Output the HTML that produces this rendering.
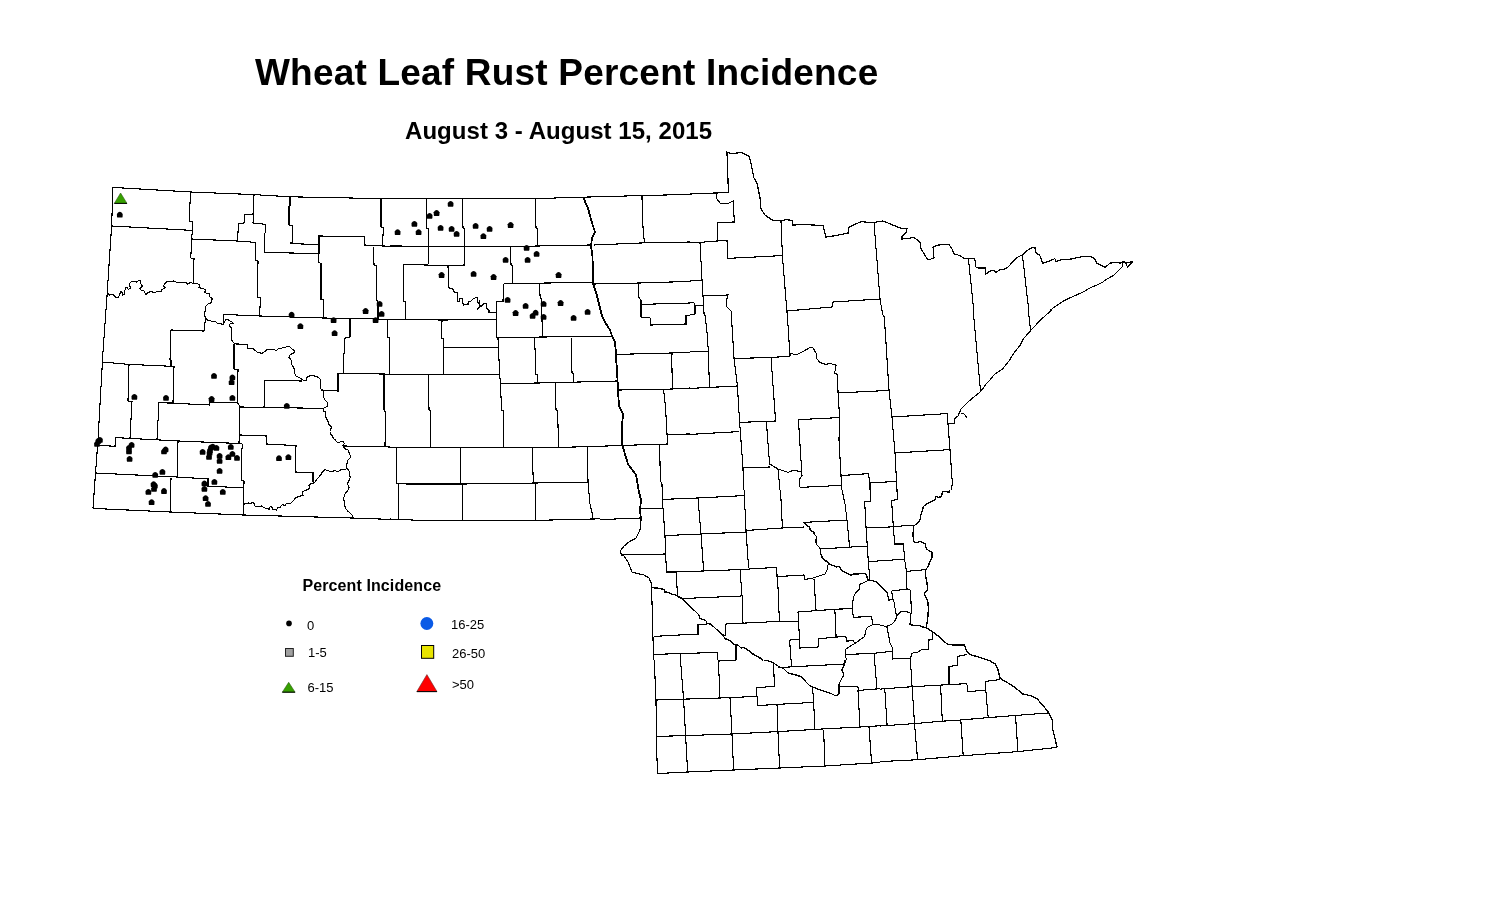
<!DOCTYPE html>
<html><head><meta charset="utf-8">
<style>
html,body{margin:0;padding:0;background:#fff;width:1503px;height:900px;overflow:hidden}
.t{position:absolute;font-family:"Liberation Sans",Arial,sans-serif;font-weight:bold;color:#000;white-space:nowrap;line-height:1}
.l{position:absolute;font-family:"Liberation Sans",Arial,sans-serif;color:#000;white-space:nowrap;font-size:13px;line-height:1}
svg{position:absolute;left:0;top:0}
</style></head><body>
<div class="t" style="left:255px;top:54px;font-size:37px;letter-spacing:0.2px">Wheat Leaf Rust Percent Incidence</div>
<div class="t" style="left:405px;top:118.7px;font-size:24px;letter-spacing:0.05px">August 3 - August 15, 2015</div>
<div class="t" style="left:302.5px;top:577.5px;font-size:16px;letter-spacing:0.1px">Percent Incidence</div>
<div class="l" style="left:307px;top:619px">0</div>
<div class="l" style="left:308px;top:645.5px">1-5</div>
<div class="l" style="left:307.5px;top:681px">6-15</div>
<div class="l" style="left:451px;top:618px">16-25</div>
<div class="l" style="left:452px;top:647px">26-50</div>
<div class="l" style="left:452px;top:677.5px">&gt;50</div>
<svg width="1503" height="900" viewBox="0 0 1503 900">
<g fill="none" stroke="#000" stroke-width="1.1" shape-rendering="crispEdges">
<defs><clipPath id="c0"><rect x="80" y="140" width="310" height="220"/></clipPath><clipPath id="c1"><rect x="80" y="360" width="310" height="185"/></clipPath><clipPath id="c2"><rect x="390" y="140" width="300" height="215"/></clipPath><clipPath id="c3"><rect x="690" y="140" width="270" height="175"/></clipPath><clipPath id="c4"><rect x="960" y="140" width="180" height="170"/></clipPath><clipPath id="c5"><rect x="960" y="310" width="180" height="90"/></clipPath><clipPath id="c6"><rect x="390" y="355" width="210" height="190"/><rect x="600" y="355" width="90" height="125"/></clipPath><clipPath id="c7"><rect x="690" y="315" width="270" height="175"/><rect x="960" y="400" width="30" height="90"/></clipPath><clipPath id="c8"><rect x="600" y="480" width="90" height="180"/><rect x="690" y="490" width="140" height="170"/><rect x="830" y="490" width="30" height="60"/></clipPath><clipPath id="c9"><rect x="860" y="490" width="200" height="60"/></clipPath><clipPath id="c10"><rect x="630" y="660" width="250" height="170"/></clipPath><clipPath id="c11"><rect x="880" y="660" width="190" height="140"/><rect x="940" y="550" width="130" height="110"/></clipPath><clipPath id="c12"><rect x="830" y="550" width="110" height="110"/></clipPath></defs>
<g clip-path="url(#c0)"><path d="M113.0 187.4 L190.4 192.0 L254.0 194.6 L290.0 196.8 L381.0 198.6 L390.0 198.8"/>
<path d="M113.0 187.4 L111.6 226.0 L107.0 296.0 L102.4 360.0"/>
<path d="M111.6 226.0 L192.4 230.4"/>
<path d="M190.4 192.0 L189.4 221.0 L192.4 221.6 L192.4 230.4 L191.6 239.0 L190.8 258.0 L194.0 258.6 L193.4 283.0"/>
<path d="M191.6 239.0 L237.6 241.0 L255.6 242.4"/>
<path d="M254.0 194.6 L253.6 214.0 L253.0 223.0 L265.8 224.4 L265.8 232.8 L264.4 233.2 L264.4 252.4 L318.6 253.6"/>
<path d="M253.6 214.0 L245.0 214.4 L244.0 223.0 L238.4 223.6 L237.6 241.0"/>
<path d="M290.0 196.8 L290.0 205.6 L289.0 206.2 L289.0 225.0 L292.4 225.6 L292.4 242.0 L291.0 242.4 L291.0 243.6 L319.0 244.6"/>
<path d="M319.0 253.6 L319.0 236.0 L364.0 236.6 L364.6 245.0 L383.0 246.0 L390.0 246.2"/>
<path d="M318.6 253.6 L318.6 262.0 L321.0 263.6 L321.0 299.4 L323.6 300.0 L323.6 318.0"/>
<path d="M381.0 198.6 L381.0 227.0 L383.4 228.0 L382.4 246.0"/>
<path d="M373.6 246.6 L374.0 265.0 L376.4 266.0 L376.4 300.0 L378.0 302.0 L378.0 318.0"/>
<path d="M255.6 242.4 L255.2 260.0 L258.0 261.0 L257.6 297.0 L260.4 298.0 L259.6 316.0"/>
<path d="M223.6 314.4 L259.6 316.0 L323.6 318.0 L378.0 319.0 L390.0 319.6"/>
<path d="M171.0 330.0 L204.0 331.0 L205.6 318.0"/>
<path d="M171.0 330.0 L170.0 360.0"/>
<path d="M234.0 344.0 L234.0 360.0"/>
<path d="M350.0 319.0 L350.0 337.0 L345.0 338.0 L343.6 360.0"/></g>
<g clip-path="url(#c1)"><path d="M102.4 360.0 L102.4 362.0 L98.0 440.0 L95.6 472.0 L93.0 508.4"/>
<path d="M102.4 362.0 L129.0 364.4 L174.0 366.4"/>
<path d="M171.0 360.0 L171.0 366.0"/>
<path d="M129.0 364.4 L128.0 401.0 L132.0 401.6 L130.0 438.0"/>
<path d="M174.0 366.4 L173.0 402.6 L159.0 402.6 L157.0 439.0"/>
<path d="M234.0 360.0 L234.0 369.0 L238.0 369.6 L237.6 402.6 L240.0 407.0 L239.0 443.0"/>
<path d="M159.0 402.6 L209.6 405.0 L210.0 402.4 L237.0 402.6"/>
<path d="M240.0 407.0 L264.0 407.4 L323.0 408.4"/>
<path d="M97.0 445.0 L115.0 446.4 L115.6 437.6 L178.0 441.0 L242.0 443.6"/>
<path d="M178.0 441.0 L177.4 477.0"/>
<path d="M242.8 443.6 L242.8 448.0 L241.2 448.2 L241.4 480.0 L244.0 481.0 L243.6 515.0"/>
<path d="M95.6 473.0 L177.4 477.0 L208.0 479.0 L208.0 486.0 L244.0 488.0"/>
<path d="M171.0 478.0 L170.4 512.0"/>
<path d="M93.0 508.4 L170.4 512.0 L243.6 515.0 L352.0 518.0 L390.0 519.4"/>
<path d="M239.0 435.0 L266.0 435.6 L266.4 444.0 L296.0 445.6 L295.4 472.0 L313.0 473.0 L313.0 482.0"/>
<path d="M264.0 407.4 L265.0 380.4 L302.0 381.0"/>
<path d="M322.0 390.0 L338.0 391.0 L338.0 373.6 L384.0 374.0 L390.0 374.4"/>
<path d="M343.6 360.0 L343.6 373.0"/>
<path d="M384.0 374.0 L384.0 410.0 L385.6 412.0 L385.0 446.0"/>
<path d="M344.0 446.0 L390.0 447.0"/></g>
<g clip-path="url(#c2)"><path d="M390.0 198.6 L535.0 198.8 L560.0 197.8 L640.0 195.6 L690.0 194.4"/>
<path d="M426.4 199.0 L426.4 228.0 L428.4 228.4 L428.4 264.0"/>
<path d="M462.4 199.0 L463.0 228.0 L464.6 228.6 L464.6 265.0"/>
<path d="M535.4 199.0 L536.0 228.0 L537.6 228.6 L537.6 246.0"/>
<path d="M390.0 246.0 L510.0 246.6 L537.6 246.0 L590.0 245.0"/>
<path d="M594.0 245.0 L640.0 243.0 L690.0 242.0"/>
<path d="M403.6 264.4 L448.0 265.6 L464.6 265.0"/>
<path d="M403.6 264.4 L403.6 301.0 L405.4 301.6 L405.4 319.0"/>
<path d="M448.0 265.6 L448.6 287.0"/>
<path d="M510.6 246.6 L511.0 265.0 L512.4 266.0 L512.4 283.0"/>
<path d="M503.6 283.6 L592.0 282.4"/>
<path d="M594.0 284.0 L640.0 283.0 L690.0 281.4"/>
<path d="M503.6 283.6 L503.0 301.0 L496.6 301.4 L496.6 338.0"/>
<path d="M390.0 319.4 L442.0 320.0 L496.0 319.6"/>
<path d="M442.0 320.0 L441.6 338.0 L443.6 339.0 L443.6 360.0"/>
<path d="M539.6 283.0 L540.0 296.0 L541.6 300.0 L542.4 337.0"/>
<path d="M496.6 338.0 L542.0 337.0 L612.0 336.4"/>
<path d="M443.6 347.6 L498.0 347.6"/>
<path d="M498.0 338.0 L499.0 360.0"/>
<path d="M534.4 337.0 L535.6 360.0"/>
<path d="M571.4 338.0 L571.4 360.0"/>
<path d="M584.0 198.0 L585.0 202.0 L588.0 208.0 L590.0 216.0 L593.0 226.0 L595.0 232.0 L592.0 238.0 L591.0 246.0 L592.4 256.0 L593.0 270.0 L593.0 284.0 L596.0 292.0 L599.0 304.0 L602.0 316.0 L605.0 322.0 L610.0 330.0 L612.0 336.0 L615.0 342.0 L616.0 354.0 L616.0 360.0" stroke-width="1.8"/>
<path d="M642.0 195.6 L642.4 220.0 L644.4 243.0"/>
<path d="M638.0 283.0 L639.0 298.0 L641.0 300.0 L641.0 317.0 L650.0 318.0 L651.0 325.0 L686.0 324.0 L686.0 316.0 L690.0 315.6"/>
<path d="M641.0 304.4 L690.0 303.0"/>
<path d="M616.0 354.4 L672.0 353.0 L690.0 352.4"/>
<path d="M672.0 353.0 L672.0 360.0"/></g>
<g clip-path="url(#c3)"><path d="M690.0 194.0 L716.0 193.0 L728.4 192.4 L727.0 152.0 L732.0 154.0 L737.0 153.0 L741.0 152.4 L749.0 156.4 L750.0 159.0 L754.0 178.0 L757.0 183.0 L760.0 198.0 L761.0 209.0 L765.0 215.0 L772.0 220.0 L781.0 221.0 L786.0 219.6 L792.0 220.4 L793.0 225.0 L806.0 224.6 L823.0 225.6 L826.0 237.0 L836.0 235.6 L848.0 233.0 L849.0 227.0 L858.0 223.0 L862.0 221.6 L868.0 222.4 L874.0 222.4 L883.0 221.0 L900.0 228.0 L907.0 229.0 L906.0 233.0 L902.0 236.0 L902.0 239.0 L914.0 237.6 L920.0 242.0 L921.0 249.0 L928.0 260.0 L934.0 258.0 L933.0 247.0 L938.0 245.0 L949.0 244.4 L952.0 249.0 L954.0 254.0 L962.0 256.0 L968.0 259.0 L974.0 259.0 L976.0 266.0 L980.0 268.0 L986.0 268.0 L986.0 274.0 L990.0 272.0" stroke-width="1.2"/>
<path d="M716.0 193.0 L717.0 199.0 L720.0 203.0 L727.0 204.0 L733.0 201.0 L734.4 222.0 L718.0 222.4 L717.0 241.0 L700.0 242.4 L690.0 242.6"/>
<path d="M717.0 241.0 L727.0 240.4 L727.6 258.4 L782.0 255.6"/>
<path d="M781.0 221.0 L782.4 255.6 L787.6 320.0"/>
<path d="M874.0 222.4 L880.0 299.0 L883.6 320.0"/>
<path d="M787.0 311.0 L832.0 307.0 L833.0 302.0 L880.0 299.0"/>
<path d="M700.0 242.4 L702.0 280.0 L703.0 296.0 L704.4 320.0"/>
<path d="M690.0 281.0 L702.0 280.4"/>
<path d="M703.0 296.0 L728.0 295.0 L726.0 302.0 L727.0 307.0 L731.0 311.0 L732.4 320.0"/>
<path d="M690.0 302.4 L694.0 303.0 L695.0 306.0 L695.0 314.0 L690.0 315.0"/>
<path d="M695.0 305.6 L704.0 305.6"/>
<path d="M968.0 259.0 L974.0 320.0"/></g>
<g clip-path="url(#c4)"><path d="M960.0 255.4 L963.6 258.2 L974.4 258.4 L975.4 261.4 L975.6 266.8 L978.0 268.0 L985.2 268.0 L985.8 274.0 L990.0 271.0 L994.2 270.6 L996.0 272.4 L999.6 269.8 L1005.0 269.0 L1008.0 267.0 L1011.6 263.2 L1016.4 257.8 L1022.4 254.8 L1027.2 250.6 L1031.8 247.6 L1035.0 247.8 L1035.6 252.4 L1039.8 255.4 L1042.8 263.2 L1048.8 261.4 L1054.8 258.6 L1056.0 261.4 L1062.0 259.6 L1068.0 259.6 L1074.0 258.4 L1083.6 256.2 L1090.8 256.6 L1094.4 258.4 L1096.8 263.2 L1101.6 265.6 L1105.2 267.4 L1110.0 263.2 L1113.6 262.6 L1120.8 263.0 L1123.8 261.4 L1126.2 264.4 L1127.4 266.8 L1132.8 261.8" stroke-width="1.2"/>
<path d="M968.4 258.6 L975.6 328.0"/>
<path d="M1022.4 254.8 L1030.8 328.0"/></g>
<g clip-path="url(#c5)"><path d="M1060.0 304.4 L1051.1 310.6 L1041.1 319.4 L1030.6 330.6 L1023.3 338.9 L1020.0 345.6 L1014.4 352.2 L1008.9 361.1 L1002.2 369.4 L994.4 374.4 L990.0 380.0 L986.7 383.3 L980.6 391.7 L970.0 400.0"/>
<path d="M972.2 300.0 L980.6 391.7"/>
<path d="M1027.2 300.0 L1030.6 330.6"/></g>
<g clip-path="url(#c6)"><path d="M443.6 350.0 L443.6 374.0"/>
<path d="M498.6 350.0 L499.6 374.0"/>
<path d="M535.0 350.0 L535.6 374.0 L537.6 375.0 L537.6 383.0"/>
<path d="M571.6 350.0 L572.0 373.0 L573.6 374.0 L573.6 382.0"/>
<path d="M390.0 374.4 L499.6 374.4 L500.4 383.0"/>
<path d="M428.4 374.4 L429.0 410.0 L430.6 410.6 L430.6 447.4"/>
<path d="M500.4 383.6 L538.0 383.0 L556.0 382.6 L617.0 381.0"/>
<path d="M500.4 383.0 L501.6 410.0 L503.6 411.0 L503.6 447.4"/>
<path d="M555.6 382.6 L556.0 410.0 L557.6 411.0 L558.6 447.4"/>
<path d="M390.0 447.4 L558.6 447.4 L590.0 446.6 L623.0 445.4 L668.0 444.0"/>
<path d="M615.0 350.0 L616.0 358.0 L617.0 370.0 L618.0 390.0 L619.0 406.0 L623.0 414.0 L622.0 426.0 L622.0 444.0 L625.0 454.0 L628.0 464.0 L636.0 475.0 L638.0 486.0 L641.0 502.0 L640.0 510.0 L641.0 520.0 L640.0 530.0" stroke-width="1.8"/>
<path d="M616.0 354.0 L650.0 353.0 L690.0 352.0"/>
<path d="M671.6 350.0 L672.4 389.0"/>
<path d="M618.0 390.0 L650.0 389.6 L672.4 389.0 L690.0 388.0"/>
<path d="M663.6 390.0 L665.6 408.0 L667.0 434.0 L667.6 444.0"/>
<path d="M667.0 434.4 L690.0 434.0"/>
<path d="M396.4 447.4 L396.4 483.0 L406.0 484.0 L460.4 484.0 L518.0 483.6 L533.6 483.0 L588.0 482.4"/>
<path d="M460.4 447.4 L460.4 484.0"/>
<path d="M532.4 447.4 L533.0 474.0 L533.6 483.0"/>
<path d="M587.6 446.6 L588.0 482.4 L590.0 504.0 L592.4 514.0 L592.4 519.0"/>
<path d="M398.4 484.0 L398.4 519.0"/>
<path d="M462.4 484.4 L462.4 520.0"/>
<path d="M535.6 483.6 L535.6 520.0"/>
<path d="M390.0 519.0 L420.0 520.4 L535.6 520.4 L592.4 519.0 L641.0 518.0"/>
<path d="M659.6 445.0 L660.4 480.0 L662.4 482.0 L662.4 508.0 L664.4 518.0 L664.4 530.0"/>
<path d="M662.4 498.4 L690.0 498.0"/>
<path d="M641.0 508.4 L662.4 508.4"/></g>
<g clip-path="url(#c7)"><path d="M704.4 310.0 L707.0 332.0 L708.4 351.6 L709.4 387.0"/>
<path d="M690.0 351.6 L708.4 351.6"/>
<path d="M690.0 388.4 L737.4 386.0"/>
<path d="M731.0 310.0 L734.0 358.0 L737.4 386.0 L739.6 422.0 L743.0 468.0 L743.6 490.0"/>
<path d="M734.0 358.4 L771.0 357.6 L790.0 356.0"/>
<path d="M787.0 310.0 L790.0 356.0"/>
<path d="M790.0 356.0 L790.0 353.0 L796.0 355.0 L802.0 352.0 L810.0 347.6 L813.0 348.0 L816.0 353.0 L817.0 359.0 L820.0 362.4 L827.0 365.0 L828.0 363.0 L836.0 365.0 L835.6 370.0 L834.0 373.0 L837.0 374.0 L838.0 393.0"/>
<path d="M771.0 357.6 L775.6 421.0 L739.6 422.4"/>
<path d="M690.0 434.4 L739.0 431.6"/>
<path d="M766.4 422.0 L769.6 464.0 L778.0 469.0 L788.0 472.4 L794.0 470.0 L801.0 472.0 L802.0 475.6 L799.0 480.0 L800.0 487.0"/>
<path d="M743.0 468.0 L769.6 467.0"/>
<path d="M778.0 469.0 L780.0 490.0"/>
<path d="M798.4 419.6 L839.6 417.6"/>
<path d="M798.4 419.6 L802.0 475.6"/>
<path d="M837.0 374.0 L839.6 417.6 L839.0 440.0 L841.0 475.0 L841.6 490.0"/>
<path d="M838.0 393.0 L889.0 390.4"/>
<path d="M882.0 310.0 L884.4 318.0 L889.0 390.0 L892.0 417.0 L895.0 453.0 L897.0 490.0"/>
<path d="M892.0 417.0 L947.0 413.6 L948.0 424.0"/>
<path d="M895.0 453.0 L950.0 449.6"/>
<path d="M948.0 424.0 L950.0 449.6 L952.4 484.0 L951.0 490.0"/>
<path d="M841.0 475.6 L868.4 473.6 L870.0 483.0 L896.0 481.4"/>
<path d="M870.0 483.0 L870.0 490.0"/>
<path d="M800.0 487.4 L841.0 485.4"/>
<path d="M990.0 381.0 L984.0 386.0 L980.0 392.0 L968.0 402.0 L961.0 409.0 L958.0 416.0 L954.0 419.0 L955.0 423.0 L948.0 424.0"/>
<path d="M973.6 310.0 L980.0 390.0"/>
<path d="M961.0 413.0 L964.0 414.0 L967.0 417.6"/></g>
<g clip-path="url(#c8)"><path d="M600.0 519.6 L641.0 518.0"/>
<path d="M637.0 480.0 L639.0 492.0 L641.0 500.0 L640.0 510.0 L641.0 520.0" stroke-width="1.8"/>
<path d="M641.0 520.0 L640.0 530.0 L636.0 538.0 L629.0 542.0 L624.0 546.0 L621.0 550.0 L620.0 553.0 L624.0 556.0 L628.0 562.0 L632.0 572.0 L638.0 573.6 L644.0 575.0 L649.0 578.0 L651.6 584.0 L651.6 588.0" stroke-width="1.2"/>
<path d="M651.6 588.0 L653.6 660.0"/>
<path d="M640.0 508.4 L662.0 508.4"/>
<path d="M660.0 480.0 L662.0 484.0 L662.4 500.0 L663.6 516.0 L665.0 536.0 L666.4 572.0 L676.0 572.0"/>
<path d="M662.4 499.4 L698.0 498.0 L744.0 495.6"/>
<path d="M698.0 498.0 L701.0 534.0 L703.6 570.4"/>
<path d="M665.0 535.6 L701.0 534.0 L746.0 532.0"/>
<path d="M743.6 480.0 L746.0 530.0 L748.6 568.0"/>
<path d="M621.0 555.0 L666.0 554.0"/>
<path d="M676.0 572.0 L740.0 569.6 L776.0 567.4 L777.0 576.6 L804.0 575.0 L805.0 579.4 L813.0 578.0 L820.0 575.6 L825.0 574.0 L827.0 570.0 L828.0 565.0"/>
<path d="M676.0 572.0 L677.6 596.0"/>
<path d="M740.0 569.6 L742.4 600.0 L743.0 623.0"/>
<path d="M681.0 598.6 L741.0 596.0"/>
<path d="M725.6 624.0 L779.0 621.4 L798.0 621.4"/>
<path d="M725.6 624.0 L725.6 636.0"/>
<path d="M707.0 624.4 L698.0 625.0 L698.0 634.0 L653.6 636.4"/>
<path d="M776.0 567.4 L777.6 578.0 L779.4 621.4"/>
<path d="M653.6 654.4 L680.4 653.6 L717.0 652.4 L717.6 660.0"/>
<path d="M680.4 653.6 L680.4 660.0"/>
<path d="M736.0 644.4 L736.0 660.0"/>
<path d="M780.0 480.0 L782.4 528.0"/>
<path d="M747.0 530.4 L782.4 528.0 L804.0 527.0"/>
<path d="M800.0 480.0 L801.0 487.0 L841.0 485.0 L845.0 504.0 L847.0 520.0 L849.6 547.0"/>
<path d="M804.0 522.4 L847.0 520.0"/>
<path d="M820.0 549.0 L867.6 546.0"/>
<path d="M841.0 480.0 L841.0 485.0"/>
<path d="M869.6 483.0 L896.0 481.0"/>
<path d="M870.0 480.0 L870.0 500.0 L865.0 502.0 L866.0 526.0 L868.0 546.0 L869.0 580.0"/>
<path d="M896.0 480.0 L896.0 499.0 L892.0 500.0 L893.6 526.0 L894.4 544.0 L900.0 544.4"/>
<path d="M866.0 527.0 L900.0 526.0"/>
<path d="M869.0 561.6 L900.0 559.0"/>
<path d="M814.0 579.0 L816.0 610.0"/>
<path d="M798.0 612.0 L852.0 608.0"/>
<path d="M869.0 580.0 L861.0 584.0 L860.0 588.0 L855.0 594.0 L853.0 598.0 L853.0 617.6 L871.0 617.0 L873.0 625.0 L880.0 624.0 L886.0 626.0 L892.0 622.0 L896.0 616.0 L900.0 613.0"/>
<path d="M869.0 580.0 L876.0 582.0 L882.0 586.0 L888.0 592.0 L889.0 600.0 L893.0 600.0 L892.0 591.0 L900.0 590.0"/>
<path d="M893.0 600.0 L896.0 614.0"/>
<path d="M798.0 612.0 L800.0 648.0 L818.0 647.0 L819.0 639.0 L835.0 637.0 L845.0 638.0 L845.6 641.0 L854.0 640.0"/>
<path d="M835.0 609.6 L837.0 637.0"/>
<path d="M789.6 640.0 L799.0 639.6"/>
<path d="M789.6 640.0 L791.0 660.0"/>
<path d="M866.0 628.0 L865.0 637.0 L860.0 640.0 L854.0 644.0 L848.0 648.0 L846.0 652.0 L845.0 656.0 L846.0 660.0"/>
<path d="M846.0 655.0 L873.0 653.6 L892.0 651.6"/>
<path d="M874.0 653.6 L874.0 660.0"/>
<path d="M886.0 626.0 L889.0 640.0 L892.0 660.0"/></g>
<g clip-path="url(#c9)"><path d="M952.7 480.0 L952.7 485.3 L949.6 488.0 L949.1 492.0 L945.3 491.7 L942.7 491.3 L941.3 496.7 L938.7 497.3 L936.0 496.7 L934.7 500.0 L926.7 503.7 L923.3 506.7 L922.0 512.0 L920.7 514.7 L920.0 520.0 L918.7 522.0 L914.7 525.3 L913.3 526.0 L913.1 534.7 L913.3 541.3 L916.0 542.7 L920.7 541.3 L925.3 544.0 L926.0 548.0 L929.3 552.0 L932.7 554.0 L932.0 558.7 L930.7 560.0" stroke-width="1.3"/>
<path d="M894.4 453.3 L896.3 481.3 L897.6 499.3 L891.3 500.7 L892.0 506.7 L893.3 526.7 L894.7 544.0 L903.3 544.0 L904.7 560.0"/>
<path d="M870.0 483.3 L896.3 481.3"/>
<path d="M868.0 473.3 L870.0 483.3 L870.7 501.3 L864.7 501.6 L866.0 526.7 L867.3 546.7 L868.7 560.0"/>
<path d="M866.0 527.3 L885.3 527.3 L913.3 525.1"/>
<path d="M860.0 546.7 L867.3 546.7"/>
<path d="M892.0 559.1 L904.7 559.1"/></g>
<g clip-path="url(#c10)"><path d="M653.6 640.0 L654.0 654.0 L656.0 700.0 L656.4 736.0 L657.4 773.6"/>
<path d="M654.0 654.4 L680.0 653.6 L717.6 652.4 L718.4 661.0 L735.6 660.6 L735.0 644.0"/>
<path d="M680.0 653.6 L683.6 699.6 L685.6 735.6 L687.6 772.0"/>
<path d="M717.6 652.4 L718.4 661.0 L720.0 698.0"/>
<path d="M656.0 700.0 L720.0 698.0 L757.0 696.4"/>
<path d="M757.0 696.4 L756.4 687.6 L774.4 686.4 L773.6 664.0"/>
<path d="M757.0 696.4 L757.6 705.6 L777.0 704.4 L813.6 702.4"/>
<path d="M777.0 704.4 L778.0 732.0 L779.6 768.0"/>
<path d="M730.0 698.0 L732.0 734.0 L733.6 770.0"/>
<path d="M812.6 687.0 L813.6 702.4 L815.0 729.4"/>
<path d="M728.0 640.0 L734.0 644.0 L739.0 647.0 L744.0 648.0 L750.0 653.0 L756.0 657.0 L761.0 659.0 L772.0 662.0 L778.0 666.0 L784.0 669.0 L788.0 673.0 L796.0 675.0 L802.0 677.0 L806.0 682.0 L810.0 686.0 L820.0 690.0 L830.0 693.0 L836.0 696.0 L839.0 694.0 L839.0 684.0 L842.0 678.0 L844.0 675.0 L842.0 670.0 L845.0 663.0 L845.0 656.0 L846.0 650.0 L850.0 645.0 L855.0 643.0 L858.0 640.0" stroke-width="1.3"/>
<path d="M839.0 687.0 L857.6 686.4 L859.0 690.4 L876.0 689.0 L912.0 687.0 L930.0 685.6"/>
<path d="M778.0 667.6 L844.0 664.0"/>
<path d="M846.0 654.0 L874.0 653.0 L892.0 651.6"/>
<path d="M874.0 653.0 L877.0 689.0"/>
<path d="M892.0 651.6 L892.4 659.6 L910.0 658.4 L911.0 654.0 L918.0 652.4 L920.0 649.0 L928.0 648.0 L928.0 640.0"/>
<path d="M911.0 654.0 L912.0 687.0 L914.0 723.6 L918.0 760.0"/>
<path d="M858.0 690.4 L860.0 727.0"/>
<path d="M886.0 689.0 L887.6 725.0"/>
<path d="M656.4 736.4 L686.0 735.6 L732.0 734.0 L778.0 731.6 L815.0 729.4 L860.0 727.0 L914.0 723.6 L930.0 722.0"/>
<path d="M657.4 773.6 L668.0 773.0 L687.6 772.0 L698.0 771.6 L733.6 770.0 L779.6 768.0 L825.0 766.0 L872.0 763.0 L918.0 759.6 L930.0 759.2"/>
<path d="M823.6 730.0 L825.0 766.0"/>
<path d="M869.0 727.0 L871.6 763.0"/>
<path d="M790.0 640.0 L791.6 667.0"/>
<path d="M800.0 640.0 L800.4 648.0 L818.4 647.0 L818.4 640.0"/>
<path d="M890.0 640.0 L892.0 644.0 L892.0 651.6"/></g>
<g clip-path="url(#c11)"><path d="M928.7 550.0 L932.3 553.6 L931.1 559.5 L928.7 564.3 L926.4 569.0 L926.4 576.2 L927.6 588.0 L924.0 595.2 L927.6 598.7 L928.7 609.4 L927.6 619.0 L926.4 626.1 L932.3 630.8 L937.1 634.4 L943.0 640.4 L947.8 644.6 L956.1 645.1 L964.4 645.1 L966.8 651.1 L970.4 654.6 L979.9 657.5 L989.4 660.6 L995.3 664.1 L997.7 668.9 L1000.1 678.4 L1008.4 683.2 L1015.5 687.9 L1022.7 693.9 L1032.2 696.2 L1036.9 698.6 L1044.1 706.9 L1048.8 712.9 L1052.4 720.0 L1052.4 728.3 L1054.8 737.8 L1057.1 747.4" stroke-width="1.3"/>
<path d="M880.0 761.6 L918.0 759.7 L963.2 755.7 L1017.9 751.6 L1057.1 747.4"/>
<path d="M880.0 726.0 L914.5 723.6 L941.8 721.2 L960.8 720.0 L988.2 717.6 L1017.9 715.3 L1048.8 712.9"/>
<path d="M880.0 689.1 L912.1 686.7 L940.6 685.1 L966.8 683.6 L968.0 691.5 L985.8 690.3 L985.8 681.3 L1000.1 679.6"/>
<path d="M949.0 684.3 L949.0 666.5 L957.3 665.3 L957.3 656.5 L966.8 654.6"/>
<path d="M985.8 690.3 L988.2 717.6"/>
<path d="M940.6 685.1 L942.3 721.7"/>
<path d="M912.1 686.7 L914.5 723.6 L917.6 759.7"/>
<path d="M884.8 689.1 L887.1 725.5"/>
<path d="M960.8 720.0 L963.2 755.7"/>
<path d="M1015.5 715.3 L1017.9 751.6"/>
<path d="M910.4 659.4 L912.1 686.7"/>
<path d="M891.9 659.4 L910.4 658.2 L910.9 653.4 L919.2 652.2 L921.6 649.9 L928.7 648.7 L929.9 639.2 L932.3 638.0 L932.3 632.0"/>
<path d="M880.0 652.2 L891.9 651.1 L893.1 659.4"/>
<path d="M887.1 626.1 L890.7 640.4 L891.9 651.1"/></g>
<g clip-path="url(#c12)"><path d="M867.3 550.0 L868.5 561.6 L869.7 579.9"/>
<path d="M868.5 561.6 L904.6 559.2"/>
<path d="M903.9 550.0 L904.6 559.2 L906.4 571.4 L907.0 589.1"/>
<path d="M906.4 571.4 L925.9 569.6"/>
<path d="M927.8 550.0 L932.1 552.4 L932.1 557.3 L929.6 562.2 L928.4 565.9 L925.9 569.6 L925.3 574.4 L926.6 580.6 L927.8 589.1 L924.1 594.0 L926.6 598.3 L927.8 601.3 L928.4 608.7 L927.8 618.4 L926.6 625.8 L925.9 627.6" stroke-width="1.3"/>
<path d="M869.7 579.9 L864.2 582.4 L859.9 584.2 L859.3 589.1 L856.3 592.2 L853.2 597.1 L852.6 608.7 L853.2 617.2 L871.6 616.6 L872.8 624.6 L878.9 624.6 L882.6 625.8 L886.8 626.4 L892.3 623.9 L895.4 620.3 L896.6 616.6 L896.0 613.6 L893.6 599.5 L888.7 600.1 L887.4 592.8 L883.8 589.1 L880.1 585.4 L876.4 581.8 L869.7 579.9"/>
<path d="M891.7 590.9 L907.0 589.1 L910.7 590.3 L911.3 613.6 L907.0 611.7 L903.3 611.1 L900.9 611.7 L898.4 614.2 L896.6 616.6"/>
<path d="M891.7 590.9 L892.9 599.5"/>
<path d="M886.8 626.4 L888.7 635.6 L889.9 642.9 L892.3 647.8 L892.9 660.0"/>
<path d="M910.7 613.6 L910.1 624.6 L915.6 625.8 L920.4 625.8 L922.9 627.0 L925.9 627.6 L932.7 631.9 L940.0 637.4" stroke-width="1.3"/>
<path d="M932.7 631.9 L932.7 639.2 L929.0 639.8 L928.8 649.0 L921.7 649.6 L918.0 652.1 L911.3 653.3 L910.7 660.0"/>
<path d="M892.3 658.8 L898.4 658.2 L910.7 658.2"/>
<path d="M872.8 624.6 L867.9 627.0 L866.1 629.4 L865.4 633.1 L864.2 636.8 L860.6 639.2 L856.9 642.3 L853.8 644.1 L849.6 646.6 L845.9 649.0 L845.3 655.1 L846.5 660.0"/>
<path d="M845.9 654.5 L874.0 653.3 L892.3 651.2"/>
<path d="M874.0 653.3 L874.6 660.0"/>
<path d="M830.0 609.3 L852.6 608.7"/>
<path d="M834.9 609.9 L836.1 637.4"/>
<path d="M830.0 637.4 L845.9 636.5 L846.5 641.1 L853.8 640.7 L854.4 644.1"/></g>
<path d="M107.5 293.3 L108.8 293.8 L109.3 295.1 L111.2 294.4 L113.0 294.4 L115.4 297.0 L118.2 297.2 L119.6 295.1 L120.5 291.9 L121.9 291.6 L122.4 295.1 L124.2 294.7 L124.7 291.4 L125.1 289.6 L125.6 287.7 L127.5 287.7 L128.4 289.6 L130.7 287.7 L129.3 284.9 L129.8 283.0 L131.7 281.4 L135.4 281.4 L136.8 282.1 L138.2 280.7 L140.1 280.7 L140.1 283.0 L142.4 285.8 L140.1 288.6 L141.0 290.0 L143.8 290.5 L144.7 292.8 L146.1 294.4 L147.5 292.8 L150.3 291.6 L152.2 291.6 L153.1 292.4 L155.9 292.2 L156.8 291.6 L161.5 291.2 L161.5 289.6 L164.3 288.6 L165.2 287.7 L163.3 286.3 L164.7 284.0 L167.1 281.6 L173.6 281.0 L175.4 281.6 L175.9 282.1 L185.7 282.1 L187.1 284.4 L189.4 283.0 L191.7 282.6 L193.1 283.8 L197.8 283.8 L199.7 284.9 L198.7 287.7 L203.4 288.6 L205.3 290.0 L204.8 292.8 L209.0 293.5 L209.9 297.0 L212.2 298.4 L211.8 300.7 L210.8 303.1 L208.0 304.0 L206.2 305.9 L205.3 307.3 L205.3 310.5 L204.5 312.8 L204.5 315.6 L205.7 318.0 L208.0 320.3 L211.8 321.2 L215.5 321.7 L217.4 323.3 L221.1 324.0 L223.9 324.2 L223.9 323.1 L225.3 320.3"/>
<path d="M225.0 320.0 L227.2 319.4 L229.4 320.6 L232.2 322.2 L232.8 323.3 L230.0 323.9 L229.4 326.1 L231.1 327.8 L231.7 340.0 L233.3 342.2 L235.0 343.9 L247.2 344.4 L247.8 348.3 L253.3 348.9 L257.2 352.2 L261.7 353.3 L263.9 352.2 L267.2 349.4 L273.9 349.4 L276.1 350.6 L278.3 348.9 L282.8 347.8 L287.2 346.7 L289.4 346.4 L291.7 348.9 L294.4 350.6 L293.9 352.8 L290.6 354.4 L288.9 356.7"/>
<path d="M288.6 356.8 L289.9 358.6 L291.2 360.3 L291.7 364.8 L293.9 367.4 L294.8 373.7 L295.7 375.9 L298.3 377.2 L301.0 378.6 L303.2 380.3 L306.3 380.3 L306.3 378.1 L308.1 376.3 L311.7 375.6 L314.3 375.9 L317.0 376.8 L319.7 378.6 L321.0 380.8 L320.6 383.4 L320.6 388.8 L322.3 390.6 L323.4 391.4 L323.4 396.8 L324.6 399.4 L326.8 401.7 L328.1 403.9 L327.2 406.6 L325.0 407.4 L323.2 408.8 L323.7 411.0 L325.4 411.9 L325.9 417.2 L327.7 420.8 L329.0 424.3 L331.2 426.6 L330.8 431.4"/>
<path d="M331.1 431.5 L330.6 434.2 L332.7 435.8 L333.2 438.4 L335.4 440.0 L336.9 442.1 L338.5 442.7 L340.6 441.6 L343.3 441.4 L344.3 443.7 L342.7 445.8 L345.4 449.0 L348.5 450.1 L349.1 452.7 L350.1 455.3 L350.1 458.0 L348.0 460.1 L347.0 463.8 L346.4 466.9 L348.0 469.6 L349.6 472.2 L350.1 477.5 L348.5 481.7 L347.5 483.8 L349.1 487.5 L348.0 490.2 L345.4 493.3 L344.3 495.4 L343.8 498.6 L344.3 503.9 L345.4 508.1 L348.0 511.3 L350.7 513.4 L352.2 515.5 L352.8 518.1"/>
<path d="M347.0 468.5 L344.3 469.6 L340.1 470.1 L338.0 471.7 L334.8 470.6 L331.7 471.7 L327.4 470.6 L325.3 469.6 L323.7 470.6 L322.2 472.2 L321.1 474.3 L319.0 477.0 L316.9 479.1 L315.3 481.7 L313.7 482.8"/>
<path d="M313.8 483.0 L310.6 483.5 L309.0 485.6 L309.5 486.4 L309.0 488.8 L306.8 489.9 L304.7 490.7 L302.6 491.5 L303.1 495.8 L300.5 496.0 L298.9 496.8 L295.1 497.4 L295.1 498.4 L293.5 500.5 L291.4 502.7 L289.8 503.7 L286.6 503.5 L285.0 505.3 L282.4 504.8 L281.3 505.6 L280.2 507.5 L277.6 508.0 L276.2 510.1 L274.9 509.3 L272.8 509.1 L271.7 506.9 L270.1 506.7 L269.6 509.1 L266.9 508.8 L263.7 507.5 L261.6 505.9 L259.5 506.7 L256.3 506.9 L255.0 505.9 L254.7 503.2 L252.0 502.7 L249.9 504.0 L248.3 502.9 L245.6 503.7 L243.5 504.3"/>
<path d="M651.8 587.5 L660.0 588.5 L664.0 589.5 L665.0 592.0 L669.0 592.5 L672.0 594.5 L675.0 594.5 L678.0 596.5 L682.0 598.5 L685.0 602.0 L691.0 607.5 L695.0 611.0 L699.0 615.0 L700.0 618.5 L705.0 620.0 L706.5 621.5 L707.0 623.5 L710.0 624.0 L714.0 627.0 L717.0 630.0 L720.0 632.0 L722.0 634.5 L724.0 635.5 L723.5 636.5 L726.0 639.0 L731.0 641.0 L733.5 644.0 L738.0 645.0 L741.0 648.0 L744.0 647.5 L748.0 650.0 L753.0 654.0 L760.0 658.0 L763.0 660.0" stroke-width="1.4"/>
<path d="M803.3 522.4 L805.6 524.2 L807.8 526.0 L809.6 526.9 L810.4 530.4 L813.6 532.2 L814.9 534.9 L816.7 536.7 L815.8 541.1 L816.7 544.7 L819.3 547.3 L820.2 549.1 L820.7 553.6 L822.0 557.1 L824.7 560.2 L828.2 562.4 L829.1 564.2 L833.6 565.6 L836.2 566.9 L839.3 566.4 L841.6 570.4 L845.1 572.2 L848.7 574.0 L851.3 575.3 L854.0 574.0 L864.7 573.6 L866.4 574.9 L867.3 578.4 L869.1 580.2" stroke-width="1.4"/>
<path d="M1132.3 261.5 L1126.7 263.1 L1123.6 261.5 L1122.8 263.9 L1122.0 267.1 L1119.6 269.5 L1114.0 275.0 L1104.4 280.6 L1102.8 282.2 L1098.0 284.6 L1088.4 288.6 L1083.6 291.8 L1070.9 297.4 L1062.9 301.4 L1058.1 304.6 L1050.1 310.2"/>
<path d="M387.5 319.3 L387.5 337.2 L389.4 337.4 L389.4 374.4"/>
<path d="M223.4 314.3 L223.4 324.2"/>
<path d="M448.3 287.0 L449.3 288.0 L452.0 288.7 L453.3 289.3 L454.3 292.3 L457.7 292.3 L457.7 301.7 L459.3 301.7 L460.0 298.7 L462.3 298.7 L463.3 305.3 L464.7 304.3 L467.3 304.0 L468.7 304.3 L468.7 301.7 L470.7 301.3 L472.7 299.3 L475.3 297.7 L477.3 297.7 L478.0 302.7 L480.0 305.3 L480.7 306.0 L478.0 308.0 L477.3 309.3 L481.3 306.0 L484.0 303.3 L486.7 303.3 L486.7 308.0 L489.3 310.7 L488.7 312.7 L496.0 312.7"/>
<path d="M479.3 300.0 L479.7 304.0"/>
</g>
<g fill="#000">
<polygon points="119.8,211.8 121.3,212.3 122.7,214.0 122.6,216.9 122.2,217.6 117.4,217.6 117.0,216.9 116.9,214.0 118.3,212.3"/>
<polygon points="212.8,443.7 214.3,444.2 215.7,445.9 215.6,448.8 215.2,449.5 210.4,449.5 210.0,448.8 209.9,445.9 211.3,444.2"/>
<polygon points="99.9,436.9 101.4,437.4 102.8,439.1 102.7,442.0 102.3,442.7 97.5,442.7 97.1,442.0 97.0,439.1 98.4,437.4"/>
<polygon points="154.9,482.7 156.4,483.2 157.8,484.9 157.7,487.8 157.3,488.5 152.5,488.5 152.1,487.8 152.0,484.9 153.4,483.2"/>
<polygon points="210.0,447.4 211.5,447.9 212.9,449.6 212.8,452.5 212.4,453.2 207.6,453.2 207.2,452.5 207.1,449.6 208.5,447.9"/>
<polygon points="291.6,311.7 293.1,312.2 294.5,313.9 294.4,316.8 294.0,317.5 289.2,317.5 288.8,316.8 288.7,313.9 290.1,312.2"/>
<polygon points="300.4,323.3 301.9,323.8 303.3,325.5 303.2,328.4 302.8,329.1 298.0,329.1 297.6,328.4 297.5,325.5 298.9,323.8"/>
<polygon points="333.6,317.3 335.1,317.8 336.5,319.5 336.4,322.4 336.0,323.1 331.2,323.1 330.8,322.4 330.7,319.5 332.1,317.8"/>
<polygon points="334.6,330.3 336.1,330.8 337.5,332.5 337.4,335.4 337.0,336.1 332.2,336.1 331.8,335.4 331.7,332.5 333.1,330.8"/>
<polygon points="365.6,308.1 367.1,308.6 368.5,310.3 368.4,313.2 368.0,313.9 363.2,313.9 362.8,313.2 362.7,310.3 364.1,308.6"/>
<polygon points="379.6,300.9 381.1,301.4 382.5,303.1 382.4,306.0 382.0,306.7 377.2,306.7 376.8,306.0 376.7,303.1 378.1,301.4"/>
<polygon points="381.6,310.9 383.1,311.4 384.5,313.1 384.4,316.0 384.0,316.7 379.2,316.7 378.8,316.0 378.7,313.1 380.1,311.4"/>
<polygon points="375.6,317.3 377.1,317.8 378.5,319.5 378.4,322.4 378.0,323.1 373.2,323.1 372.8,322.4 372.7,319.5 374.1,317.8"/>
<polygon points="214.0,372.9 215.5,373.4 216.9,375.1 216.8,378.0 216.4,378.7 211.6,378.7 211.2,378.0 211.1,375.1 212.5,373.4"/>
<polygon points="232.4,374.5 233.9,375.0 235.3,376.7 235.2,379.6 234.8,380.3 230.0,380.3 229.6,379.6 229.5,376.7 230.9,375.0"/>
<polygon points="231.6,379.3 233.1,379.8 234.5,381.5 234.4,384.4 234.0,385.1 229.2,385.1 228.8,384.4 228.7,381.5 230.1,379.8"/>
<polygon points="134.4,393.9 135.9,394.4 137.3,396.1 137.2,399.0 136.8,399.7 132.0,399.7 131.6,399.0 131.5,396.1 132.9,394.4"/>
<polygon points="166.0,394.9 167.5,395.4 168.9,397.1 168.8,400.0 168.4,400.7 163.6,400.7 163.2,400.0 163.1,397.1 164.5,395.4"/>
<polygon points="211.6,396.1 213.1,396.6 214.5,398.3 214.4,401.2 214.0,401.9 209.2,401.9 208.8,401.2 208.7,398.3 210.1,396.6"/>
<polygon points="232.4,394.9 233.9,395.4 235.3,397.1 235.2,400.0 234.8,400.7 230.0,400.7 229.6,400.0 229.5,397.1 230.9,395.4"/>
<polygon points="286.8,402.9 288.3,403.4 289.7,405.1 289.6,408.0 289.2,408.7 284.4,408.7 284.0,408.0 283.9,405.1 285.3,403.4"/>
<polygon points="98.4,437.9 99.9,438.4 101.3,440.1 101.2,443.0 100.8,443.7 96.0,443.7 95.6,443.0 95.5,440.1 96.9,438.4"/>
<polygon points="97.0,440.9 98.5,441.4 99.9,443.1 99.8,446.0 99.4,446.7 94.6,446.7 94.2,446.0 94.1,443.1 95.5,441.4"/>
<polygon points="131.6,441.9 133.1,442.4 134.5,444.1 134.4,447.0 134.0,447.7 129.2,447.7 128.8,447.0 128.7,444.1 130.1,442.4"/>
<polygon points="129.0,444.9 130.5,445.4 131.9,447.1 131.8,450.0 131.4,450.7 126.6,450.7 126.2,450.0 126.1,447.1 127.5,445.4"/>
<polygon points="129.0,448.5 130.5,449.0 131.9,450.7 131.8,453.6 131.4,454.3 126.6,454.3 126.2,453.6 126.1,450.7 127.5,449.0"/>
<polygon points="165.6,446.5 167.1,447.0 168.5,448.7 168.4,451.6 168.0,452.3 163.2,452.3 162.8,451.6 162.7,448.7 164.1,447.0"/>
<polygon points="164.0,448.5 165.5,449.0 166.9,450.7 166.8,453.6 166.4,454.3 161.6,454.3 161.2,453.6 161.1,450.7 162.5,449.0"/>
<polygon points="129.6,455.9 131.1,456.4 132.5,458.1 132.4,461.0 132.0,461.7 127.2,461.7 126.8,461.0 126.7,458.1 128.1,456.4"/>
<polygon points="211.0,444.5 212.5,445.0 213.9,446.7 213.8,449.6 213.4,450.3 208.6,450.3 208.2,449.6 208.1,446.7 209.5,445.0"/>
<polygon points="216.4,444.9 217.9,445.4 219.3,447.1 219.2,450.0 218.8,450.7 214.0,450.7 213.6,450.0 213.5,447.1 214.9,445.4"/>
<polygon points="202.6,448.9 204.1,449.4 205.5,451.1 205.4,454.0 205.0,454.7 200.2,454.7 199.8,454.0 199.7,451.1 201.1,449.4"/>
<polygon points="209.6,449.9 211.1,450.4 212.5,452.1 212.4,455.0 212.0,455.7 207.2,455.7 206.8,455.0 206.7,452.1 208.1,450.4"/>
<polygon points="209.0,453.9 210.5,454.4 211.9,456.1 211.8,459.0 211.4,459.7 206.6,459.7 206.2,459.0 206.1,456.1 207.5,454.4"/>
<polygon points="219.6,452.9 221.1,453.4 222.5,455.1 222.4,458.0 222.0,458.7 217.2,458.7 216.8,458.0 216.7,455.1 218.1,453.4"/>
<polygon points="219.6,457.9 221.1,458.4 222.5,460.1 222.4,463.0 222.0,463.7 217.2,463.7 216.8,463.0 216.7,460.1 218.1,458.4"/>
<polygon points="230.8,443.9 232.3,444.4 233.7,446.1 233.6,449.0 233.2,449.7 228.4,449.7 228.0,449.0 227.9,446.1 229.3,444.4"/>
<polygon points="232.4,450.9 233.9,451.4 235.3,453.1 235.2,456.0 234.8,456.7 230.0,456.7 229.6,456.0 229.5,453.1 230.9,451.4"/>
<polygon points="228.4,454.3 229.9,454.8 231.3,456.5 231.2,459.4 230.8,460.1 226.0,460.1 225.6,459.4 225.5,456.5 226.9,454.8"/>
<polygon points="237.0,454.9 238.5,455.4 239.9,457.1 239.8,460.0 239.4,460.7 234.6,460.7 234.2,460.0 234.1,457.1 235.5,455.4"/>
<polygon points="219.6,467.9 221.1,468.4 222.5,470.1 222.4,473.0 222.0,473.7 217.2,473.7 216.8,473.0 216.7,470.1 218.1,468.4"/>
<polygon points="279.0,455.3 280.5,455.8 281.9,457.5 281.8,460.4 281.4,461.1 276.6,461.1 276.2,460.4 276.1,457.5 277.5,455.8"/>
<polygon points="288.4,454.3 289.9,454.8 291.3,456.5 291.2,459.4 290.8,460.1 286.0,460.1 285.6,459.4 285.5,456.5 286.9,454.8"/>
<polygon points="162.4,468.9 163.9,469.4 165.3,471.1 165.2,474.0 164.8,474.7 160.0,474.7 159.6,474.0 159.5,471.1 160.9,469.4"/>
<polygon points="155.2,471.9 156.7,472.4 158.1,474.1 158.0,477.0 157.6,477.7 152.8,477.7 152.4,477.0 152.3,474.1 153.7,472.4"/>
<polygon points="153.6,481.3 155.1,481.8 156.5,483.5 156.4,486.4 156.0,487.1 151.2,487.1 150.8,486.4 150.7,483.5 152.1,481.8"/>
<polygon points="154.0,485.9 155.5,486.4 156.9,488.1 156.8,491.0 156.4,491.7 151.6,491.7 151.2,491.0 151.1,488.1 152.5,486.4"/>
<polygon points="148.4,488.9 149.9,489.4 151.3,491.1 151.2,494.0 150.8,494.7 146.0,494.7 145.6,494.0 145.5,491.1 146.9,489.4"/>
<polygon points="164.0,488.1 165.5,488.6 166.9,490.3 166.8,493.2 166.4,493.9 161.6,493.9 161.2,493.2 161.1,490.3 162.5,488.6"/>
<polygon points="151.6,499.3 153.1,499.8 154.5,501.5 154.4,504.4 154.0,505.1 149.2,505.1 148.8,504.4 148.7,501.5 150.1,499.8"/>
<polygon points="204.4,480.5 205.9,481.0 207.3,482.7 207.2,485.6 206.8,486.3 202.0,486.3 201.6,485.6 201.5,482.7 202.9,481.0"/>
<polygon points="204.4,485.9 205.9,486.4 207.3,488.1 207.2,491.0 206.8,491.7 202.0,491.7 201.6,491.0 201.5,488.1 202.9,486.4"/>
<polygon points="214.4,478.9 215.9,479.4 217.3,481.1 217.2,484.0 216.8,484.7 212.0,484.7 211.6,484.0 211.5,481.1 212.9,479.4"/>
<polygon points="205.6,495.3 207.1,495.8 208.5,497.5 208.4,500.4 208.0,501.1 203.2,501.1 202.8,500.4 202.7,497.5 204.1,495.8"/>
<polygon points="208.0,500.9 209.5,501.4 210.9,503.1 210.8,506.0 210.4,506.7 205.6,506.7 205.2,506.0 205.1,503.1 206.5,501.4"/>
<polygon points="222.8,488.9 224.3,489.4 225.7,491.1 225.6,494.0 225.2,494.7 220.4,494.7 220.0,494.0 219.9,491.1 221.3,489.4"/>
<polygon points="397.6,229.3 399.1,229.8 400.5,231.5 400.4,234.4 400.0,235.1 395.2,235.1 394.8,234.4 394.7,231.5 396.1,229.8"/>
<polygon points="414.4,220.9 415.9,221.4 417.3,223.1 417.2,226.0 416.8,226.7 412.0,226.7 411.6,226.0 411.5,223.1 412.9,221.4"/>
<polygon points="418.6,229.3 420.1,229.8 421.5,231.5 421.4,234.4 421.0,235.1 416.2,235.1 415.8,234.4 415.7,231.5 417.1,229.8"/>
<polygon points="429.6,212.9 431.1,213.4 432.5,215.1 432.4,218.0 432.0,218.7 427.2,218.7 426.8,218.0 426.7,215.1 428.1,213.4"/>
<polygon points="436.6,210.1 438.1,210.6 439.5,212.3 439.4,215.2 439.0,215.9 434.2,215.9 433.8,215.2 433.7,212.3 435.1,210.6"/>
<polygon points="450.6,200.9 452.1,201.4 453.5,203.1 453.4,206.0 453.0,206.7 448.2,206.7 447.8,206.0 447.7,203.1 449.1,201.4"/>
<polygon points="440.6,224.9 442.1,225.4 443.5,227.1 443.4,230.0 443.0,230.7 438.2,230.7 437.8,230.0 437.7,227.1 439.1,225.4"/>
<polygon points="451.6,225.9 453.1,226.4 454.5,228.1 454.4,231.0 454.0,231.7 449.2,231.7 448.8,231.0 448.7,228.1 450.1,226.4"/>
<polygon points="456.6,230.9 458.1,231.4 459.5,233.1 459.4,236.0 459.0,236.7 454.2,236.7 453.8,236.0 453.7,233.1 455.1,231.4"/>
<polygon points="475.6,222.9 477.1,223.4 478.5,225.1 478.4,228.0 478.0,228.7 473.2,228.7 472.8,228.0 472.7,225.1 474.1,223.4"/>
<polygon points="489.6,225.9 491.1,226.4 492.5,228.1 492.4,231.0 492.0,231.7 487.2,231.7 486.8,231.0 486.7,228.1 488.1,226.4"/>
<polygon points="483.4,233.3 484.9,233.8 486.3,235.5 486.2,238.4 485.8,239.1 481.0,239.1 480.6,238.4 480.5,235.5 481.9,233.8"/>
<polygon points="510.6,222.1 512.1,222.6 513.5,224.3 513.4,227.2 513.0,227.9 508.2,227.9 507.8,227.2 507.7,224.3 509.1,222.6"/>
<polygon points="526.6,244.9 528.1,245.4 529.5,247.1 529.4,250.0 529.0,250.7 524.2,250.7 523.8,250.0 523.7,247.1 525.1,245.4"/>
<polygon points="536.6,250.9 538.1,251.4 539.5,253.1 539.4,256.0 539.0,256.7 534.2,256.7 533.8,256.0 533.7,253.1 535.1,251.4"/>
<polygon points="505.6,256.9 507.1,257.4 508.5,259.1 508.4,262.0 508.0,262.7 503.2,262.7 502.8,262.0 502.7,259.1 504.1,257.4"/>
<polygon points="527.6,256.9 529.1,257.4 530.5,259.1 530.4,262.0 530.0,262.7 525.2,262.7 524.8,262.0 524.7,259.1 526.1,257.4"/>
<polygon points="441.6,272.1 443.1,272.6 444.5,274.3 444.4,277.2 444.0,277.9 439.2,277.9 438.8,277.2 438.7,274.3 440.1,272.6"/>
<polygon points="473.6,270.9 475.1,271.4 476.5,273.1 476.4,276.0 476.0,276.7 471.2,276.7 470.8,276.0 470.7,273.1 472.1,271.4"/>
<polygon points="493.6,274.1 495.1,274.6 496.5,276.3 496.4,279.2 496.0,279.9 491.2,279.9 490.8,279.2 490.7,276.3 492.1,274.6"/>
<polygon points="558.6,272.1 560.1,272.6 561.5,274.3 561.4,277.2 561.0,277.9 556.2,277.9 555.8,277.2 555.7,274.3 557.1,272.6"/>
<polygon points="507.6,296.9 509.1,297.4 510.5,299.1 510.4,302.0 510.0,302.7 505.2,302.7 504.8,302.0 504.7,299.1 506.1,297.4"/>
<polygon points="525.6,302.9 527.1,303.4 528.5,305.1 528.4,308.0 528.0,308.7 523.2,308.7 522.8,308.0 522.7,305.1 524.1,303.4"/>
<polygon points="515.6,310.1 517.1,310.6 518.5,312.3 518.4,315.2 518.0,315.9 513.2,315.9 512.8,315.2 512.7,312.3 514.1,310.6"/>
<polygon points="535.6,309.7 537.1,310.2 538.5,311.9 538.4,314.8 538.0,315.5 533.2,315.5 532.8,314.8 532.7,311.9 534.1,310.2"/>
<polygon points="532.6,312.9 534.1,313.4 535.5,315.1 535.4,318.0 535.0,318.7 530.2,318.7 529.8,318.0 529.7,315.1 531.1,313.4"/>
<polygon points="543.6,300.9 545.1,301.4 546.5,303.1 546.4,306.0 546.0,306.7 541.2,306.7 540.8,306.0 540.7,303.1 542.1,301.4"/>
<polygon points="543.6,313.9 545.1,314.4 546.5,316.1 546.4,319.0 546.0,319.7 541.2,319.7 540.8,319.0 540.7,316.1 542.1,314.4"/>
<polygon points="560.6,300.1 562.1,300.6 563.5,302.3 563.4,305.2 563.0,305.9 558.2,305.9 557.8,305.2 557.7,302.3 559.1,300.6"/>
<polygon points="573.6,314.9 575.1,315.4 576.5,317.1 576.4,320.0 576.0,320.7 571.2,320.7 570.8,320.0 570.7,317.1 572.1,315.4"/>
<polygon points="587.6,308.9 589.1,309.4 590.5,311.1 590.4,314.0 590.0,314.7 585.2,314.7 584.8,314.0 584.7,311.1 586.1,309.4"/>
</g>
<polygon points="114.3,203.4 120.6,193 127,203.4" fill="#36a000" stroke="#2a5a10" stroke-width="0.6"/>
<line x1="114.3" y1="203.4" x2="127" y2="203.4" stroke="#000" stroke-width="1"/>
<!-- legend symbols -->
<circle cx="289" cy="623.4" r="2.8" fill="#000"/>
<rect x="285.5" y="648.5" width="7.8" height="7.8" fill="#a0a0a0" stroke="#222" stroke-width="1"/>
<polygon points="282.3,692.2 288.7,682.3 295.1,692.2" fill="#36a000" stroke="#2a5a10" stroke-width="0.6"/>
<line x1="282.3" y1="692.2" x2="295.1" y2="692.2" stroke="#000" stroke-width="1"/>
<circle cx="426.85" cy="623.5" r="6.45" fill="#0a5ae6"/>
<rect x="421.5" y="645.5" width="12.2" height="12.8" fill="#e8e400" stroke="#000" stroke-width="1"/>
<polygon points="416.8,691.6 426.9,674.6 437,691.6" fill="#ff0000" stroke="#663333" stroke-width="0.6"/>
<line x1="416.8" y1="691.6" x2="437" y2="691.6" stroke="#000" stroke-width="1"/>
</svg>
</body></html>
